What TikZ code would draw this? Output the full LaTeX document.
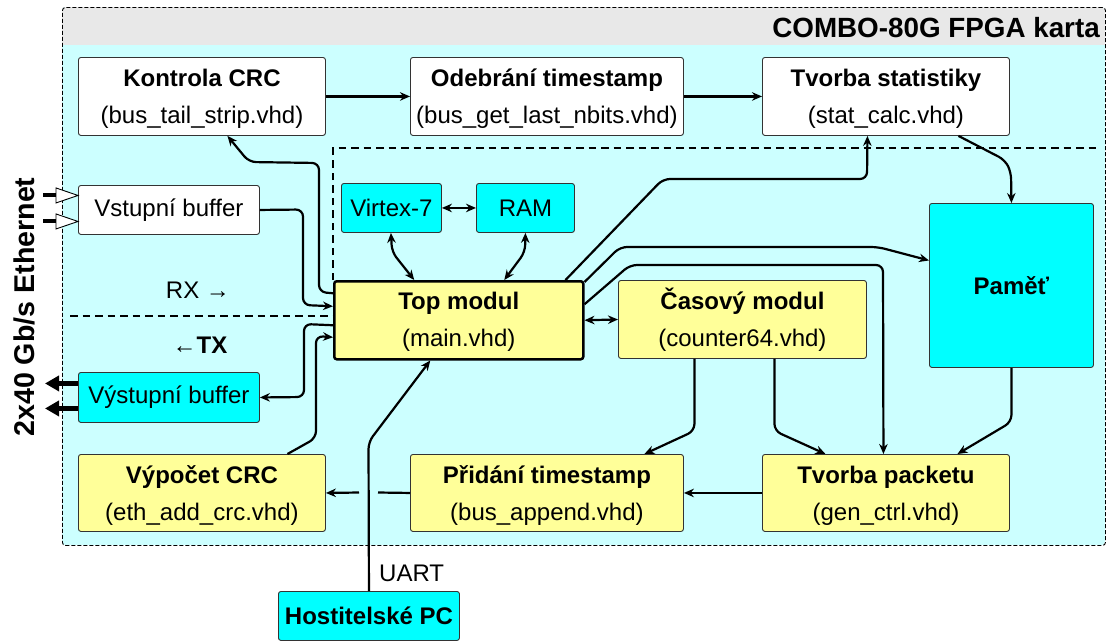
\documentclass[tikz,border=0pt]{standalone}
\usepackage{fontspec}
\setmainfont{Liberation Sans}
\usetikzlibrary{arrows.meta}

\definecolor{cardbg}{HTML}{CCFFFF}
\definecolor{bandgray}{HTML}{E8E8E8}
\definecolor{cyanbox}{HTML}{00FFFF}
\definecolor{yellowbox}{HTML}{FFFF99}

\tikzset{
  blk/.style={draw=black!80, line width=0.9pt, rounded corners=2.5pt, inner sep=0pt,
              anchor=north west, font=\fontsize{24}{28}\selectfont},
  boxW/.style={blk, fill=white},
  boxC/.style={blk, fill=cyanbox},
  boxY/.style={blk, fill=yellowbox},
  ttl/.style={anchor=base, inner sep=0pt, font=\bfseries\fontsize{24}{28}\selectfont},
  subtxt/.style={anchor=base, inner sep=0pt, font=\fontsize{24}{28}\selectfont},
  conn/.style={line width=2.2pt, rounded corners=7pt, -{Stealth[length=10pt,width=8.5pt]}},
  biconn/.style={line width=2.2pt, rounded corners=7pt,
                 {Stealth[length=10pt,width=8.5pt]}-{Stealth[length=10pt,width=8.5pt]}},
  plain/.style={line width=2.2pt},
  zone/.style={line width=1.3pt, dash pattern=on 7.5pt off 5pt},
}

\begin{document}
\begin{tikzpicture}[x=1pt,y=-1pt]
\useasboundingbox (0,0) rectangle (1111,641);

% card background with grey title band
\begin{scope}
  \clip[rounded corners=3pt] (62,7) rectangle (1105,545);
  \fill[cardbg] (62,7) rectangle (1105,545);
  \fill[bandgray] (62,7) rectangle (1105,45);
\end{scope}
\node[draw, line width=0.9pt, dash pattern=on 4pt off 2pt, rounded corners=3pt,
      inner sep=0pt, anchor=north west, minimum width=1043pt, minimum height=538pt]
      (card) at (62,7) {};
\node[anchor=base east, inner sep=0pt, font=\bfseries\fontsize{27.8}{30}\selectfont]
      (cardtitle) at (1100,37) {COMBO-80G FPGA karta};

% RX / TX separation
\draw[zone] (70,316) -- (333,316);
\draw[zone] (333,280) -- (333,148) -- (1098,148);

% side label
\node[rotate=90, anchor=base, inner sep=0pt, font=\bfseries\fontsize{28.6}{31}\selectfont]
      (eth) at (34,307) {2x40 Gb/s Ethernet};
\node[anchor=base, inner sep=0pt, font=\fontsize{24}{28}\selectfont] (rx) at (198,298) {RX →};
\node[anchor=base, inner sep=0pt, font=\fontsize{24}{28}\selectfont] (tx) at (200,353) {←\textbf{TX}};

% blocks
\node[boxW, minimum width=247pt, minimum height=78pt] (kontrola) at (78,57) {};
\node[ttl]    at ([yshift=-29pt]kontrola.north) {Kontrola CRC};
\node[subtxt] at ([yshift=-66pt]kontrola.north) {(bus\_tail\_strip.vhd)};

\node[boxW, minimum width=273pt, minimum height=78pt] (odebrani) at (410,57) {};
\node[ttl]    at ([yshift=-29pt]odebrani.north) {Odebrání timestamp};
\node[subtxt] at ([yshift=-66pt]odebrani.north) {(bus\_get\_last\_nbits.vhd)};

\node[boxW, minimum width=247pt, minimum height=78pt] (stat) at (762,57) {};
\node[ttl]    at ([yshift=-29pt]stat.north) {Tvorba statistiky};
\node[subtxt] at ([yshift=-66pt]stat.north) {(stat\_calc.vhd)};

\node[boxW, minimum width=181pt, minimum height=49pt] (vstup) at (78,185) {Vstupní buffer};
\node[boxC, minimum width=100pt, minimum height=49pt] (virtex) at (341,183) {Virtex-7};
\node[boxC, minimum width=98pt, minimum height=49pt] (ram) at (476,183) {RAM};
\node[boxC, minimum width=164pt, minimum height=164pt] (pamet) at (929,203) {\bfseries Paměť};

\node[boxY, draw=black, line width=2.5pt, minimum width=249pt, minimum height=78pt] (top) at (333,280) {};
\node[ttl]    at ([yshift=-29pt]top.north) {Top modul};
\node[subtxt] at ([yshift=-66pt]top.north) {(main.vhd)};

\node[boxY, minimum width=248pt, minimum height=78pt] (casovy) at (618,280) {};
\node[ttl]    at ([yshift=-29pt]casovy.north) {Časový modul};
\node[subtxt] at ([yshift=-66pt]casovy.north) {(counter64.vhd)};

\node[boxC, minimum width=181pt, minimum height=50pt] (vystup) at (78,372) {Výstupní buffer};

\node[boxY, minimum width=247pt, minimum height=77pt] (vypocet) at (78,454) {};
\node[ttl]    at ([yshift=-29pt]vypocet.north) {Výpočet CRC};
\node[subtxt] at ([yshift=-66pt]vypocet.north) {(eth\_add\_crc.vhd)};

\node[boxY, minimum width=273pt, minimum height=77pt] (pridani) at (410,454) {};
\node[ttl]    at ([yshift=-29pt]pridani.north) {Přidání timestamp};
\node[subtxt] at ([yshift=-66pt]pridani.north) {(bus\_append.vhd)};

\node[boxY, minimum width=247pt, minimum height=77pt] (packet) at (762,454) {};
\node[ttl]    at ([yshift=-29pt]packet.north) {Tvorba packetu};
\node[subtxt] at ([yshift=-66pt]packet.north) {(gen\_ctrl.vhd)};

\node[boxC, minimum width=181pt, minimum height=49pt] (pc) at (278,591) {\bfseries Hostitelské PC};

% Ethernet inputs
\foreach \dy in {14.5,-11.5}{
  \draw[line width=4pt] ([shift={(-35pt,\dy pt)}]vstup.west) -- ++(13,0);
  \draw[fill=white, line width=0.9pt]
    ([shift={(-22pt,\dy pt+7.5pt)}]vstup.west) -- ([yshift=\dy pt]vstup.west)
    -- ([shift={(-22pt,\dy pt-7.5pt)}]vstup.west) -- cycle;
}
% Ethernet outputs
\foreach \dy in {14,-11}{
  \draw[line width=5pt, -{Triangle[length=14pt,width=15pt]}]
    ([yshift=\dy pt]vystup.west) -- ++(-33,0);
}

% RX path
\draw[conn] (kontrola.east) -- (odebrani.west);
\draw[conn] (odebrani.east) -- (stat.west);
\draw[conn] ([xshift=72.5pt]stat.south) -- (1005,160) -- (1011,172) -- (pamet.north);
\draw[conn] (vstup.east) -- (303,209.5) -- (303,305) -- ([yshift=14pt]top.west);
\draw[conn] ([yshift=27pt]top.west) -- (319,292) -- (319,163) -- (249,162)
            -- ([xshift=25.5pt]kontrola.south);
\draw[conn] ([xshift=-19pt]top.north east) -- (663,179) -- (867,179)
            -- ([xshift=-18.5pt]stat.south);

% memory and control
\draw[biconn] (virtex.east) -- (ram.west);
\draw[biconn] ([xshift=-0.5pt]virtex.south) -- (392,252) -- ([xshift=-44.5pt]top.north);
\draw[biconn] (ram.south) -- (525,252) -- ([xshift=45.5pt]top.north);
\draw[biconn] (top.east) -- (casovy.west);
\draw[conn] ([yshift=-2pt]top.north east) -- (620,247) -- (878,247)
            -- ([yshift=25pt]pamet.west);
\draw[conn] ([yshift=16pt]top.east) -- (630,265) -- (883,265)
            -- ([xshift=-2.5pt]packet.north);

% TX path
\draw[conn] ([xshift=-48pt]casovy.south) -- ++(0,72) -- ([xshift=97.5pt]pridani.north);
\draw[conn] ([xshift=32pt]casovy.south) -- ++(0,72) -- ([xshift=-60.5pt]packet.north);
\draw[conn] (pamet.south) -- ++(0,54) -- ([xshift=71.5pt]packet.north);
\draw[conn] (packet.west) -- (pridani.east);
\coordinate (gapR) at (378,492.5);
\coordinate (gapL) at (359,492.5);
\draw[plain] (pridani.west) -- (gapR);
\draw[conn] (gapL) -- (vypocet.east);
\draw[conn] ([xshift=85.5pt]vypocet.north) -- (316,438) -- (316,336)
            -- ([yshift=-17pt]top.west);
\draw[conn] ([yshift=-5pt]top.west) -- (304,324) -- (304,397) -- (vystup.east);

% host link
\draw[conn] (pc.north) -- (368.5,442) -- ([xshift=-28.5pt]top.south);
\node[anchor=base west, inner sep=0pt, font=\fontsize{24}{28}\selectfont] (uart) at (379,581) {UART};

\end{tikzpicture}
\end{document}
